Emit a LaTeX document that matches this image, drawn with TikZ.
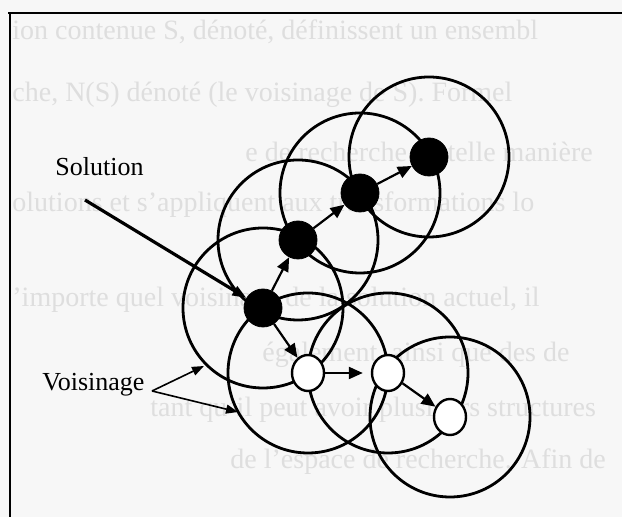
\documentclass[tikz,border=0pt]{standalone}
\usepackage{fontspec}
\setmainfont{Liberation Serif}
\usetikzlibrary{positioning,arrows.meta,shapes.geometric}

\begin{document}
\begin{tikzpicture}[
    x=0.5pt, y=-0.5pt,
    ghost/.style={anchor=west, text=black!13, font=\fontsize{14}{16}\selectfont, inner sep=0pt},
    label/.style={font=\fontsize{13}{15}\selectfont, inner sep=0pt},
    nbhd/.style={line width=1.4pt},
    sol/.style={circle, fill=black, draw=black, inner sep=0pt, minimum size=19pt},
    cand/.style={ellipse, fill=white, draw=black, line width=1.2pt, inner sep=0pt,
                 minimum width=16pt, minimum height=18pt},
    move/.style={-{Triangle[length=7pt,width=6pt]}, line width=1.1pt},
    pointer/.style={-{Triangle[length=6pt,width=4.5pt]}, line width=0.8pt},
  ]

  % ---------- page: background and frame ----------
  \useasboundingbox (0,0) rectangle (622,517);
  \fill[black!3] (0,0) rectangle (622,517);
  \draw[line width=1pt] (8,13) -- (622,13);
  \draw[line width=1pt] (10,13) -- (10,517);

  % ---------- text showing through the paper ----------
  \foreach \x/\y/\txt in {
      12/32/{ion contenue S, dénoté, définissent un ensembl},
      12/95/{che, N(S) dénoté (le voisinage de S). Formel},
      245/152/{e de recherche de telle manière},
      12/205/{olutions et s'appliquent aux transformations lo},
      12/300/{'importe quel voisinage de la solution actuel, il},
      262/355/{également, ainsi que des de},
      150/410/{tant qu'il peut avoir plusieurs structures},
      230/462/{de l'espace de recherche. Afin de}}
    \node[ghost] at (\x,\y) {\txt};

  % ---------- centres of the solutions ----------
  \coordinate (c1) at (263,308);
  \coordinate (c2) at (298,240);
  \coordinate (c3) at (360,193);
  \coordinate (c4) at (429,157);
  \coordinate (w1) at (308,373);
  \coordinate (w2) at (388,373);
  \coordinate (w3) at (450,417);

  % ---------- neighbourhoods ----------
  \foreach \c in {c1,c2,c3,c4,w1,w2,w3}
    \draw[nbhd] (\c) circle[radius=40pt];

  % ---------- solutions ----------
  \node[sol] (s1) at (c1) {};
  \node[sol] (s2) at (c2) {};
  \node[sol] (s3) at (c3) {};
  \node[sol] (s4) at (c4) {};
  \node[cand] (v1) at (w1) {};
  \node[cand] (v2) at (w2) {};
  \node[cand] (v3) at (w3) {};

  % ---------- moves ----------
  \draw[move] (s1) -- (s2);
  \draw[move] (s2) -- (s3);
  \draw[move] (s3) -- (s4);
  \draw[move] (s1) -- (v1);
  \draw[move, shorten >=4pt] (v1) -- (v2);
  \draw[move] (v2) -- (v3);

  % ---------- labels ----------
  \node[label, anchor=west] (soltxt) at (55,167) {Solution};
  \coordinate (soltail) at (85,200);
  \draw[-{Triangle[length=7pt,width=5pt]}, line width=1.6pt] (soltail) -- (s1);

  \node[label, anchor=west] (voistxt) at (42,385) {Voisinage};
  \coordinate (fork) at (152,391);
  \coordinate (tipa) at (204,366);
  \coordinate (tipb) at (238,412);
  \draw[pointer] (fork) -- (tipa);
  \draw[pointer] (fork) -- (tipb);

\end{tikzpicture}
\end{document}
